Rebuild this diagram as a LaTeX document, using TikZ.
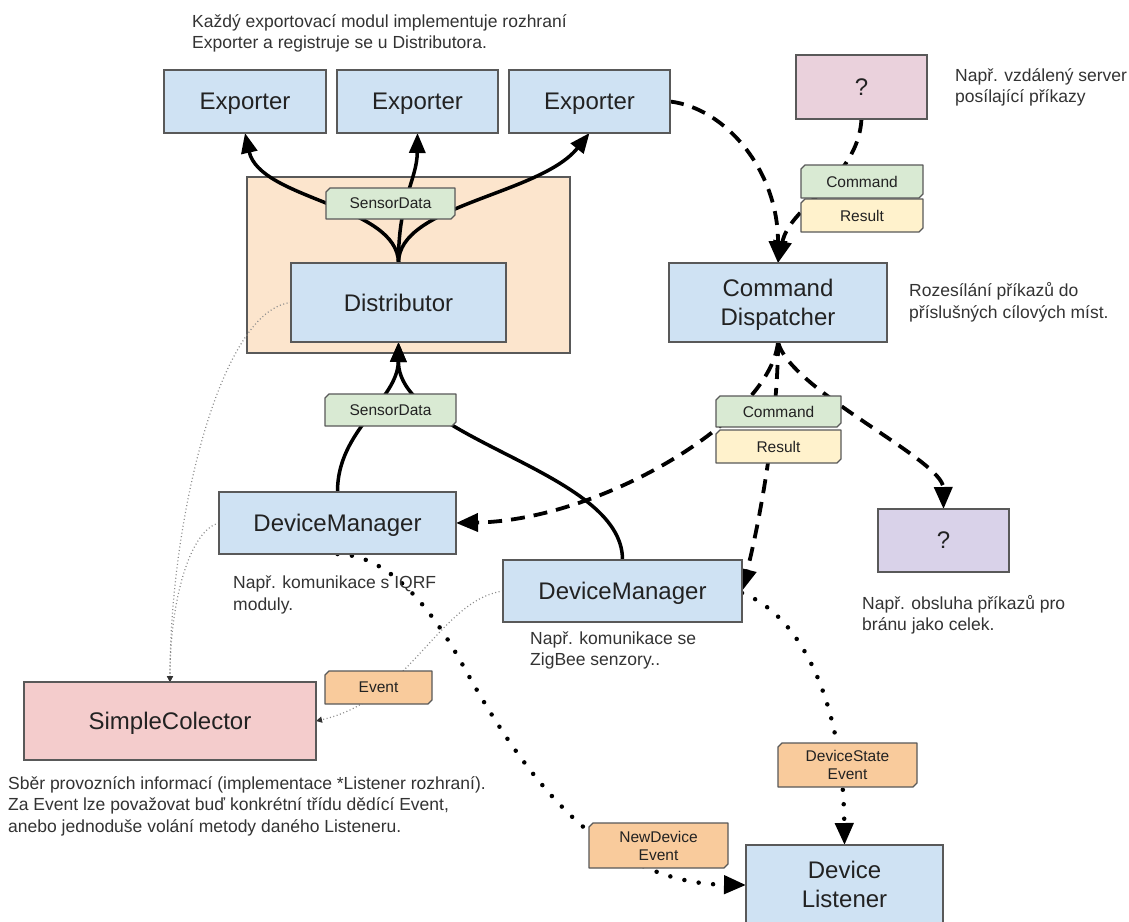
\documentclass[tikz,border=0pt]{standalone}
\usepackage{fontspec}
\setmainfont{Liberation Sans}
\usetikzlibrary{arrows.meta}
\pgfdeclarelayer{bg}
\pgfdeclarelayer{edges}
\pgfdeclarelayer{tagbg}
\pgfsetlayers{bg,edges,tagbg,main}
\definecolor{boxblue}{HTML}{CFE2F3}
\definecolor{peach}{HTML}{FCE5CD}
\definecolor{pinkq}{HTML}{EAD1DC}
\definecolor{purpq}{HTML}{D9D2E9}
\definecolor{scred}{HTML}{F4CCCC}
\definecolor{tgreen}{HTML}{D9EAD3}
\definecolor{tyellow}{HTML}{FFF2CC}
\definecolor{torange}{HTML}{F9CB9C}
\definecolor{bordr}{HTML}{595959}
\definecolor{txt}{HTML}{222222}
\definecolor{notetxt}{HTML}{333333}
\newcommand\bxfont{\fontsize{24}{29}\selectfont}
\newcommand\tgfont{\fontsize{15.5}{18}\selectfont}
\newcommand\ntfont{\fontsize{17.5}{21.5}\selectfont}
\newcommand\tagframe[2]{%
  \begin{pgfonlayer}{tagbg}
  \draw[line width=1.3pt,draw=bordr,fill=#2,line join=round]
    (#1.south west) -- ([yshift=-4pt]#1.north west) -- ([xshift=4pt]#1.north west)
    -- (#1.north east) -- ([yshift=4pt]#1.south east) -- ([xshift=-4pt]#1.south east) -- cycle;
  \end{pgfonlayer}}
\begin{document}
\begin{tikzpicture}[x=1pt,y=-1pt,
  box/.style={draw=bordr,line width=1.5pt,inner sep=0pt,outer sep=0pt,align=center,font=\bxfont,text=txt,text depth=0pt},
  tag/.style={inner sep=0pt,outer sep=0pt,align=center,font=\tgfont,text=txt},
  note/.style={inner sep=0pt,align=left,anchor=west,font=\ntfont,text=notetxt},
  solidl/.style={line width=3.5pt,-{Triangle[length=20pt,width=16pt]}},
  dashl/.style={line width=3.8pt,dash pattern=on 14pt off 9pt,-{Triangle[length=22pt,width=18pt]}},
  dotl/.style={line width=4.5pt,line cap=round,dash pattern=on 0pt off 14.5pt,-{Triangle[length=22pt,width=18pt]}},
  thindot/.style={line width=1.2pt,draw=black!45,dash pattern=on 1pt off 2.5pt,-{Triangle[length=6pt,width=6pt,color=black!80]}}
]
\useasboundingbox (0,0) rectangle (1129,921);

% background and container
\begin{pgfonlayer}{bg}
\fill[white] (0,0) rectangle (1129,921);
\draw[draw=bordr,line width=1.5pt,fill=peach] (247,177) rectangle (570,353);
\end{pgfonlayer}

% boxes
\node[box,fill=boxblue,minimum width=162pt,minimum height=63pt] (e1) at (245,101.5) {Exporter};
\node[box,fill=boxblue,minimum width=161pt,minimum height=63pt] (e2) at (417.5,101.5) {Exporter};
\node[box,fill=boxblue,minimum width=161pt,minimum height=63pt] (e3) at (589.5,101.5) {Exporter};
\node[box,fill=pinkq,minimum width=131pt,minimum height=64pt] (pk) at (861.5,87) {?};
\node[box,fill=boxblue,minimum width=215pt,minimum height=79pt] (dist) at (398.5,302.5) {Distributor};
\node[box,fill=boxblue,minimum width=218pt,minimum height=79pt] (cd) at (778,302.5) {Command\\Dispatcher};
\node[box,fill=purpq,minimum width=131pt,minimum height=63pt] (pq) at (943.5,540.5) {?};
\node[box,fill=boxblue,minimum width=237pt,minimum height=62pt] (dm1) at (337.5,523) {DeviceManager};
\node[box,fill=boxblue,minimum width=239pt,minimum height=62pt] (dm2) at (622.5,591) {DeviceManager};
\node[box,fill=scred,minimum width=292pt,minimum height=78pt] (sc) at (170,721) {SimpleColector};
\node[box,fill=boxblue,minimum width=197pt,minimum height=80pt] (dl) at (844.5,885) {};
\node[font=\bxfont,text=txt,align=center,inner sep=0pt] (dltxt) at (844.5,884) {Device\\Listener};

% tags
\node[tag,minimum width=129pt,minimum height=31pt] (sdtop) at (390.5,203.5) {SensorData};
\node[tag,minimum width=131pt,minimum height=32pt] (sdbot) at (390.5,410) {SensorData};
\node[tag,minimum width=122pt,minimum height=33pt] (cmdtop) at (862,181.5) {Command};
\node[tag,minimum width=122pt,minimum height=33pt] (restop) at (862,215.5) {Result};
\node[tag,minimum width=125pt,minimum height=31pt] (cmdbot) at (778.5,411.5) {Command};
\node[tag,minimum width=125pt,minimum height=33pt] (resbot) at (778.5,446.5) {Result};
\node[tag,minimum width=107pt,minimum height=33pt] (ev) at (378.5,687.5) {Event};
\node[tag,minimum width=139pt,minimum height=44pt] (dsev) at (847.5,765) {DeviceState\\Event};
\node[tag,minimum width=139pt,minimum height=45pt] (ndev) at (658.5,845.5) {NewDevice\\Event};
\tagframe{sdtop}{tgreen}
\tagframe{sdbot}{tgreen}
\tagframe{cmdtop}{tgreen}
\tagframe{restop}{tyellow}
\tagframe{cmdbot}{tgreen}
\tagframe{resbot}{tyellow}
\tagframe{ev}{torange}
\tagframe{dsev}{torange}
\tagframe{ndev}{torange}

% notes
\node[note] (n1) at (192,33.5) {Každý exportovací modul implementuje rozhraní\\Exporter a registruje se u Distributora.};
\node[note] (n2) at (955,87.5) {Např. vzdálený server\\posílající příkazy};
\node[note] (n3) at (909,302.5) {Rozesílání příkazů do\\příslušných cílových míst.};
\node[note] (n4) at (862,615) {Např. obsluha příkazů pro\\bránu jako celek.};
\node[note] (n5) at (233,595) {Např. komunikace s IQRF\\moduly.};
\node[note] (n6) at (530,650.5) {Např. komunikace se\\ZigBee senzory..};
\node[note] (n7) at (8,806) {Sběr provozních informací (implementace *Listener rozhraní).\\Za Event lze považovat buď konkrétní třídu dědící Event,\\anebo jednoduše volání metody daného Listeneru.};

% connectors
\begin{pgfonlayer}{edges}
\draw[solidl] (dist.north) .. controls (398,205) and (260,200) .. (e1.south);
\draw[solidl] (dist.north) .. controls (398,200) and (417,180) .. (e2.south);
\draw[solidl] (dist.north) .. controls (398,205) and (540,195) .. (e3.south);
\draw[solidl] (dm1.north) .. controls (337,430) and (398,400) .. (dist.south);
\draw[solidl] (dm2.north) .. controls (623,470) and (398,440) .. (dist.south);

\draw[dashl] (e3.east) .. controls (725,108) and (778,170) .. (cd.north);
\draw[dashl] (pk.south) .. controls (858,180) and (790,205) .. (cd.north);
\draw[dashl] (cd.south) .. controls (770,420) and (600,520) .. (dm1.east);
\draw[dashl] (cd.south) .. controls (778,420) and (760,520) .. (dm2.east);
\draw[dashl] (cd.south) .. controls (790,390) and (943,460) .. (pq.north);

\draw[dotl] (dm1.south) .. controls (380,555) and (420,590) .. (460,660)
  .. controls (520,770) and (600,883) .. (dl.west);
\draw[dotl] ([yshift=-2pt]dm2.east) .. controls (800,615) and (843,700) .. (dl.north);

\draw[thindot] (dist.west) .. controls (220,310) and (170,520) .. (sc.north);
\draw[thindot] (dm1.west) .. controls (190,530) and (170,600) .. (sc.north);
\draw[thindot] (dm2.west) .. controls (440,600) and (410,700) .. (sc.east);
\end{pgfonlayer}
\end{tikzpicture}
\end{document}
